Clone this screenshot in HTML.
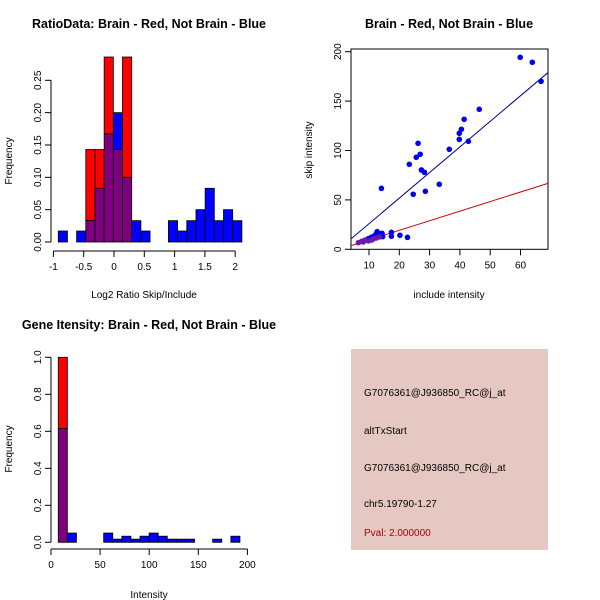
<!DOCTYPE html>
<html><head><meta charset="utf-8"><style>
html,body{margin:0;padding:0;background:#fff;}
svg{display:block;font-family:"Liberation Sans",sans-serif;}
</style></head><body>
<svg id="s" width="600" height="600" viewBox="0 0 600 600">
<rect width="600" height="600" fill="#fff"/>
<text x="149" y="28" font-size="12.5" font-weight="bold" text-anchor="middle">RatioData: Brain - Red, Not Brain - Blue</text>
<text x="449" y="28" font-size="12.5" font-weight="bold" text-anchor="middle">Brain - Red, Not Brain - Blue</text>
<text x="149" y="329" font-size="12.5" font-weight="bold" text-anchor="middle">Gene Itensity: Brain - Red, Not Brain - Blue</text>
<text x="144" y="298" font-size="10" text-anchor="middle">Log2 Ratio Skip/Include</text>
<text transform="translate(12,161) rotate(-90)" font-size="10" text-anchor="middle">Frequency</text>
<text x="449" y="298" font-size="10" text-anchor="middle">include intensity</text>
<text transform="translate(312,150) rotate(-90)" font-size="10" text-anchor="middle">skip intensity</text>
<text x="149" y="598" font-size="10" text-anchor="middle">Intensity</text>
<text transform="translate(12,449) rotate(-90)" font-size="10" text-anchor="middle">Frequency</text>
<g id="p1"></g>
<g id="p2"></g>
<g id="p3"></g>
<g>
<rect x="351" y="349" width="197" height="201" fill="#E6C8C2"/>
<text x="364" y="396" font-size="10">G7076361@J936850_RC@j_at</text>
<text x="364" y="434" font-size="10">altTxStart</text>
<text x="364" y="471" font-size="10">G7076361@J936850_RC@j_at</text>
<text x="364" y="507" font-size="10">chr5.19790-1.27</text>
<text x="364" y="536" font-size="10" fill="#B00000">Pval: 2.000000</text>
</g>
</svg>
<script>
// Ratio histogram data
const ratioStart = -0.92, ratioWidth = 0.1515;
const ratioBlue = [0.017,0,0.017,0.033,0.083,0.167,0.2,0.1,0.033,0.017,0,0,0.033,0.017,0.033,0.05,0.083,0.033,0.05,0.033];
const ratioRed  = [0,0,0,0.143,0.143,0.286,0.143,0.286,0,0,0,0,0,0,0,0,0,0,0,0];
const ratioXTicks = [-1,-0.5,0,0.5,1,1.5,2];
const ratioYTicks = [0,0.05,0.1,0.15,0.2,0.25];
// Scatter data
const notBrainX = [59.9,63.9,66.8,46.4,41.4,40.5,39.8,39.8,42.8,36.5,26.2,26.9,25.6,23.3,27.3,28.3,33.2,14.1,28.6,24.6,20.2,22.7,17.4,17.4,12.5,12.7,13.6,14.3,14.5,11.7,10.7,9.8];
const notBrainY = [194.3,189.3,170,141.7,131.6,121.5,117.4,111.3,109.3,101.2,107.3,96.2,93.1,86,80.3,77.9,65.8,61.7,58.7,55.7,14.2,12.1,17.2,13.2,16.2,17.9,15.2,16.2,12.8,13.5,12.1,10.8];
const brainX = [6.5,7.6,8.1,8.7,9.8,10.9,11.5,12.5,13.5];
const brainY = [6.7,8.1,7.4,9.4,8.5,9.4,10.5,11.5,12.5];
const blueFit = [0, 2.59];
const redFit = [-0.2, 0.97];
const scatterXTicks = [10,20,30,40,50,60];
const scatterYTicks = [0,50,100,150,200];
// Intensity histogram data
const intStart = 7.4, intWidth = 9.25;
const intBlue = [0.615,0.05,0,0,0,0.05,0.017,0.033,0.017,0.033,0.05,0.033,0.017,0.017,0.017,0,0,0.017,0,0.033];
const intRed  = [1.0,0,0,0,0,0,0,0,0,0,0,0,0,0,0,0,0,0,0,0];
const intXTicks = [0,50,100,150,200];
const intYTicks = [0,0.2,0.4,0.6,0.8,1.0];

const NS="http://www.w3.org/2000/svg";
function mk(parent,tag,attrs){const e=document.createElementNS(NS,tag);for(const k in attrs)e.setAttribute(k,attrs[k]);parent.appendChild(e);return e;}

function hist(g,start,width,blue,red,xs,ys,xTicks,yTicks,axX,axY,prefix){
  for(let i=0;i<blue.length;i++){
    const x0=xs(start+i*width),x1=xs(start+(i+1)*width);
    const b=blue[i],r=red[i],lo=Math.min(b,r),hi=Math.max(b,r);
    if(hi<=0)continue;
    if(hi>lo){
      const e=mk(g,'rect',{x:x0,y:ys(hi),width:x1-x0,height:ys(lo)-ys(hi),fill:b>r?'#0000FF':'#FF0000',stroke:'#000','stroke-width':0.8});
      
      
    }
    if(lo>0){
      const e=mk(g,'rect',{x:x0,y:ys(lo),width:x1-x0,height:ys(0)-ys(lo),fill:'#7F007F',stroke:'#000','stroke-width':0.8});
      
      
    }
  }
  const ya=mk(g,'line',{x1:axX,x2:axX,y1:ys(yTicks[0]),y2:ys(yTicks[yTicks.length-1]),stroke:'#000'});
  
  
  yTicks.forEach(v=>{
    mk(g,'line',{x1:axX-6,x2:axX,y1:ys(v),y2:ys(v),stroke:'#000'});
    const t=mk(g,'text',{transform:`translate(${axX-10},${ys(v)}) rotate(-90)`,'font-size':10,'text-anchor':'middle'});
    t.textContent=String(v===0?(yTicks[1]<0.1?'0.00':'0.0'):(yTicks[1]<0.1?v.toFixed(2):v.toFixed(1)));
    
    
  });
  const xa=mk(g,'line',{x1:xs(xTicks[0]),x2:xs(xTicks[xTicks.length-1]),y1:axY,y2:axY,stroke:'#000'});
  
  
  xTicks.forEach(v=>{
    mk(g,'line',{x1:xs(v),x2:xs(v),y1:axY,y2:axY+6,stroke:'#000'});
    const t=mk(g,'text',{x:xs(v),y:axY+19,'font-size':10,'text-anchor':'middle'});
    t.textContent=String(v);
    
    
  });
}

hist(document.getElementById('p1'),ratioStart,ratioWidth,ratioBlue,ratioRed,
  v=>114+v*60.6, v=>242-v*646.8, ratioXTicks, ratioYTicks, 51, 251,'ratio');

hist(document.getElementById('p3'),intStart,intWidth,intBlue,intRed,
  v=>51+v*0.982, v=>542.3-v*185, intXTicks, intYTicks, 51, 549,'intensity');

(function(){
  const g=document.getElementById('p2');
  const xs=v=>369+(v-10)*3.03, ys=v=>249.3-v*0.988;
  const L=351,R=548,T=49,B=249.3;
  const clip=mk(g,'clipPath',{id:'c2'}); mk(clip,'rect',{x:L,y:T,width:R-L,height:B-T});
  const box=mk(g,'rect',{x:L,y:T,width:R-L,height:B-T,fill:'none',stroke:'#000'});
  
  
  const xl=(L-369)/3.03+10, xr=(R-369)/3.03+10;
  const bl=mk(g,'line',{x1:xs(xl),y1:ys(blueFit[0]+blueFit[1]*xl),x2:xs(xr),y2:ys(blueFit[0]+blueFit[1]*xr),stroke:'#00008B','clip-path':'url(#c2)'});
  
  
  const rl=mk(g,'line',{x1:xs(xl),y1:ys(redFit[0]+redFit[1]*xl),x2:xs(xr),y2:ys(redFit[0]+redFit[1]*xr),stroke:'#CC0000','clip-path':'url(#c2)'});
  
  
  notBrainX.forEach((x,i)=>{
    const c=mk(g,'circle',{cx:xs(x),cy:ys(notBrainY[i]),r:2.8,fill:'#0000EE'});
    
    
  });
  brainX.forEach((x,i)=>{
    const c=mk(g,'circle',{cx:xs(x),cy:ys(brainY[i]),r:2.8,fill:'#6A1AB0'});
    
    
  });
  scatterXTicks.forEach(v=>{
    mk(g,'line',{x1:xs(v),x2:xs(v),y1:B,y2:B+6,stroke:'#000'});
    const t=mk(g,'text',{x:xs(v),y:B+19,'font-size':10,'text-anchor':'middle'});
    t.textContent=String(v);
    
    
  });
  scatterYTicks.forEach(v=>{
    mk(g,'line',{x1:L-6,x2:L,y1:ys(v),y2:ys(v),stroke:'#000'});
    const t=mk(g,'text',{transform:`translate(${L-10},${ys(v)}) rotate(-90)`,'font-size':10,'text-anchor':'middle'});
    t.textContent=String(v);
    
    
  });
})();
</script>
</body></html>
